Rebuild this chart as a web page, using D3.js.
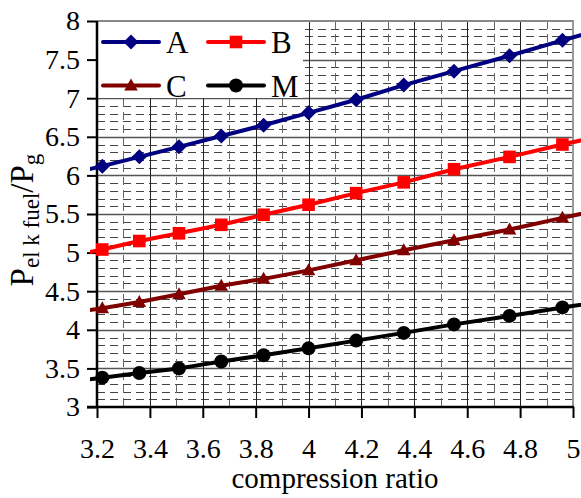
<!DOCTYPE html>
<html>
<head>
<meta charset="utf-8">
<script src="https://cdn.jsdelivr.net/npm/d3@7"></script>
<style>
  html, body { margin: 0; padding: 0; background: #fff; }
  svg { display: block; }
</style>
</head>
<body>
<svg id="chart" width="581" height="498"></svg>
<script>
// ---- data ----
const compression = [3.08, 3.22, 3.36, 3.51, 3.67, 3.83, 4.0, 4.18, 4.36, 4.55, 4.76, 4.96, 5.18];
const seriesA = [6.01, 6.12, 6.24, 6.37, 6.51, 6.65, 6.81, 6.98, 7.17, 7.35, 7.55, 7.75, 7.96];
const seriesB = [4.94, 5.04, 5.15, 5.25, 5.36, 5.49, 5.62, 5.77, 5.91, 6.08, 6.24, 6.40, 6.57];
const seriesC = [4.21, 4.28, 4.36, 4.46, 4.57, 4.66, 4.77, 4.90, 5.03, 5.16, 5.30, 5.45, 5.61];
const seriesM = [3.32, 3.38, 3.44, 3.50, 3.59, 3.67, 3.76, 3.86, 3.96, 4.07, 4.18, 4.29, 4.40];
const seriesNames = ["A", "B", "C", "M"];
const xTickValues = [3.2, 3.4, 3.6, 3.8, 4, 4.2, 4.4, 4.6, 4.8, 5];
const yTickValues = [3, 3.5, 4, 4.5, 5, 5.5, 6, 6.5, 7, 7.5, 8];
const xTitle = "compression ratio";

// ---- styles ----
const colors = { A: "#000080", B: "#ff0000", C: "#800000", M: "#000000" };
const markers = { A: "diamond", B: "square", C: "triangle", M: "circle" };
const seriesData = { A: seriesA, B: seriesB, C: seriesC, M: seriesM };
const SERIF = "'Liberation Serif', 'Times New Roman', serif";

const svg = d3.select("#chart");
const x = d3.scaleLinear().domain([3.2, 5]).range([97, 573]);
const y = d3.scaleLinear().domain([3, 8]).range([407, 21]);

// ---- grid ----
const grid = svg.append("g");
const xMinor = d3.range(3.3, 5, 0.2).map(v => +v.toFixed(2));
const yMinor = d3.range(3.1, 8, 0.1).map(v => +v.toFixed(2)).filter(v => Math.abs(v * 2 - Math.round(v * 2)) > 1e-6);

grid.selectAll(".hminor").data(yMinor).join("line")
  .attr("x1", x(3.2)).attr("x2", x(5))
  .attr("y1", d => Math.round(y(d)) + 0.5).attr("y2", d => Math.round(y(d)) + 0.5)
  .attr("stroke", "#444").attr("stroke-width", 1).attr("stroke-dasharray", "8,5");
grid.selectAll(".vminor").data(xMinor).join("line")
  .attr("x1", d => Math.round(x(d)) + 0.5).attr("x2", d => Math.round(x(d)) + 0.5)
  .attr("y1", y(8)).attr("y2", y(3))
  .attr("stroke", "#666").attr("stroke-width", 1).attr("stroke-dasharray", "8,5");
grid.selectAll(".hmajor").data(yTickValues.slice(1, -1)).join("line")
  .attr("x1", x(3.2)).attr("x2", x(5))
  .attr("y1", d => Math.round(y(d)) + 0.5).attr("y2", d => Math.round(y(d)) + 0.5)
  .attr("stroke", "#555").attr("stroke-width", 1.3);
grid.selectAll(".vmajor").data(xTickValues.slice(1, -1)).join("line")
  .attr("x1", d => Math.round(x(d)) + 0.5).attr("x2", d => Math.round(x(d)) + 0.5)
  .attr("y1", y(8)).attr("y2", y(3))
  .attr("stroke", "#222").attr("stroke-width", 1);
// top and right border (gray)
svg.append("line").attr("x1", x(3.2)).attr("x2", x(5) + 1).attr("y1", y(8)).attr("y2", y(8))
  .attr("stroke", "#888").attr("stroke-width", 2);
svg.append("line").attr("x1", x(5)).attr("x2", x(5)).attr("y1", y(8)).attr("y2", y(3))
  .attr("stroke", "#999").attr("stroke-width", 2);

// ---- legend background (covers grid) ----
svg.append("rect").attr("x", 98).attr("y", 22).attr("width", 205).attr("height", 76).attr("fill", "#fff");

// ---- axes ----
const xAxis = d3.axisBottom(x).tickValues(xTickValues).tickSize(11).tickPadding(21)
  .tickFormat(d3.format("~g"));
const gx = svg.append("g").attr("transform", `translate(0,${y(3)})`).call(xAxis);
gx.select(".domain").attr("stroke", "#000").attr("stroke-width", 2.5).attr("d", `M${x(3.2) - 10},0H${x(5) + 1}`);
gx.selectAll(".tick line").attr("stroke", "#000").attr("stroke-width", 2);
gx.selectAll(".tick text")
  .style("font-family", SERIF).style("font-size", "28px").style("fill", "#000")
  .attr("y", 31).attr("dy", "0.71em");

const yAxis = d3.axisLeft(y).tickValues(yTickValues).tickSize(10).tickPadding(7)
  .tickFormat(d3.format("~g"));
const gy = svg.append("g").attr("transform", `translate(${x(3.2)},0)`).call(yAxis);
gy.select(".domain").attr("stroke", "#000").attr("stroke-width", 2.5).attr("d", `M0,${y(8)}V${y(3)}`);
gy.selectAll(".tick line").attr("stroke", "#000").attr("stroke-width", 2);
gy.selectAll(".tick text")
  .style("font-family", SERIF).style("font-size", "28px").style("fill", "#000");

// ---- axis titles ----
svg.append("text").attr("x", 335).attr("y", 488).attr("text-anchor", "middle")
  .style("font-family", SERIF).style("font-size", "29px").text(xTitle);

const yt = svg.append("text").attr("transform", "translate(33,220) rotate(-90)")
  .attr("text-anchor", "middle").style("font-family", SERIF).style("font-size", "33px");
yt.append("tspan").text("P");
yt.append("tspan").style("font-size", "23px").attr("dy", 6).text("el k fuel");
yt.append("tspan").attr("dy", -6).text("/P");
yt.append("tspan").style("font-size", "23px").attr("dy", 6).text("g");

// ---- marker symbols ----
function markerPath(type) {
  if (type === "diamond") return "M0,-7.5L7.5,0L0,7.5L-7.5,0Z";
  if (type === "square") return "M-6.3,-6.3H6.3V6.3H-6.3Z";
  if (type === "triangle") return "M0,-7L6.8,5H-6.8Z";
  return d3.symbol(d3.symbolCircle, Math.PI * 7 * 7)();
}

// ---- series ----
svg.append("clipPath").attr("id", "clip").append("rect")
  .attr("x", 90).attr("y", 0).attr("width", 491).attr("height", 498);
const plot = svg.append("g").attr("clip-path", "url(#clip)");
const line = d3.line().x((d, i) => x(compression[i])).y(d => y(d));

seriesNames.forEach(name => {
  const vals = seriesData[name];
  plot.append("path").datum(vals).attr("d", line)
    .attr("fill", "none").attr("stroke", colors[name]).attr("stroke-width", 4)
    .attr("stroke-linejoin", "round");
  plot.selectAll(".m" + name).data(vals).join("path")
    .attr("transform", (d, i) => `translate(${x(compression[i])},${y(d)})`)
    .attr("d", markerPath(markers[name]))
    .attr("fill", colors[name]);
});

// ---- legend ----
const legendPos = [
  { name: "A", lx: 103, ly: 42 },
  { name: "B", lx: 208, ly: 42 },
  { name: "C", lx: 103, ly: 85.5 },
  { name: "M", lx: 208, ly: 85.5 }
];
legendPos.forEach(p => {
  const g = svg.append("g");
  g.append("line").attr("x1", p.lx).attr("x2", p.lx + 56).attr("y1", p.ly).attr("y2", p.ly)
    .attr("stroke", colors[p.name]).attr("stroke-width", 4).attr("stroke-linecap", "round");
  g.append("path").attr("transform", `translate(${p.lx + 28},${p.ly})`)
    .attr("d", markerPath(markers[p.name])).attr("fill", colors[p.name]);
  g.append("text").attr("x", p.lx + 63).attr("y", p.ly + 11)
    .style("font-family", SERIF).style("font-size", "31px").style("fill", "#000").text(p.name);
});
</script>
</body>
</html>
